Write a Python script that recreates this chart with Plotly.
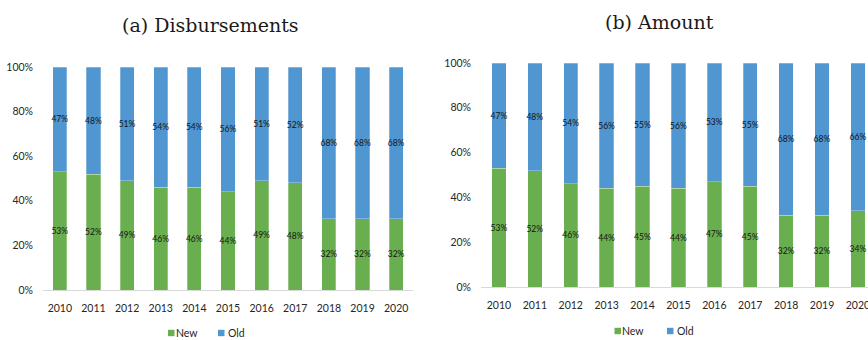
import plotly.graph_objects as go

W, H = 868, 340

years = [str(y) for y in range(2010, 2021)]

# (a) Disbursements: share of new vs old clients, %
disb_new = [53, 52, 49, 46, 46, 44, 49, 48, 32, 32, 32]
disb_old = [47, 48, 51, 54, 54, 56, 51, 52, 68, 68, 68]

# (b) Amount: share of new vs old clients, %
amt_new = [53, 52, 46, 44, 45, 44, 47, 45, 32, 32, 34]
amt_old = [47, 48, 54, 56, 55, 56, 53, 55, 68, 68, 66]

series_names = ["New", "Old"]

GREEN = "#6AAF4F"
BLUE = "#5096D1"
SANS = "Lato, Liberation Sans, sans-serif"
TICK_FONT = dict(family=SANS, size=10.5, color="#262626")
LABEL_FONT = dict(family=SANS, size=8.5, color="#141414")
TITLE_FONT = dict(family="DejaVu Serif, Liberation Serif, serif", size=19, color="#1a1a1a")


def px_x(x):
    return x / W


def px_y(y):
    return 1 - y / H


fig = go.Figure()


def add_panel(new, old, xaxis, yaxis, width):
    for name, vals, color in ((series_names[0], new, GREEN), (series_names[1], old, BLUE)):
        fig.add_trace(go.Bar(
            x=years, y=[v / 100 for v in vals], name=name,
            marker=dict(color=color, line=dict(color="rgba(255,255,255,0.45)", width=0.6)),
            width=width,
            texttemplate="%{y:.0%}", textposition="inside", insidetextanchor="middle",
            textangle=0, constraintext="none", insidetextfont=LABEL_FONT,
            xaxis=xaxis, yaxis=yaxis, showlegend=False, hoverinfo="skip",
        ))


add_panel(disb_new, disb_old, "x", "y", 0.42)
add_panel(amt_new, amt_old, "x2", "y2", 0.40)

xcommon = dict(type="category", showgrid=False, showline=True, linecolor="#d9d9d9",
               linewidth=1.2, ticks="", tickfont=TICK_FONT, ticklabelstandoff=8,
               zeroline=False, fixedrange=True, automargin=False)
ycommon = dict(range=[0, 1], dtick=0.2, tickformat=".0%", showgrid=False, showline=False,
               zeroline=False, tickfont=TICK_FONT, ticks="", ticklabelstandoff=9,
               fixedrange=True, automargin=False)

# Compact legend keys under each panel: small square + label
shapes, annotations = [], []


def legend_keys(entries, cy):
    for (sx, tx, label, color) in entries:
        shapes.append(dict(type="rect", xref="paper", yref="paper",
                           x0=px_x(sx), x1=px_x(sx + 6.5), y0=px_y(cy + 3.2), y1=px_y(cy - 3.2),
                           fillcolor=color, line=dict(width=0)))
        annotations.append(dict(text=label, x=px_x(tx), y=px_y(cy), xref="paper", yref="paper",
                                showarrow=False, xanchor="left", yanchor="middle", borderpad=0,
                                font=dict(family=SANS, size=10.5, color="#262626")))


legend_keys([(168, 174.5, series_names[0], GREEN), (218, 226.5, series_names[1], BLUE)], 333)
legend_keys([(614.5, 621, series_names[0], GREEN), (667, 675.5, series_names[1], BLUE)], 331)

annotations += [
    dict(text="(a) Disbursements", x=px_x(210), y=px_y(25), xref="paper", yref="paper",
         showarrow=False, font=TITLE_FONT, xanchor="center", yanchor="middle"),
    dict(text="(b) Amount", x=px_x(659), y=px_y(22), xref="paper", yref="paper",
         showarrow=False, font=TITLE_FONT, xanchor="center", yanchor="middle"),
]

fig.update_layout(
    width=W, height=H, margin=dict(l=0, r=0, t=0, b=0, autoexpand=False),
    paper_bgcolor="white", plot_bgcolor="white", barmode="stack",
    showlegend=False,
    xaxis=dict(domain=[px_x(43), px_x(413)], range=[-0.5, 10.5], anchor="y", **xcommon),
    yaxis=dict(domain=[px_y(290), px_y(67)], anchor="x", **ycommon),
    xaxis2=dict(domain=[px_x(481), 1.0], range=[-0.5, 10.28], anchor="y2", **xcommon),
    yaxis2=dict(domain=[px_y(287), px_y(63)], anchor="x2", **ycommon),
    shapes=shapes,
    annotations=annotations,
)

fig.write_html("out.html")
